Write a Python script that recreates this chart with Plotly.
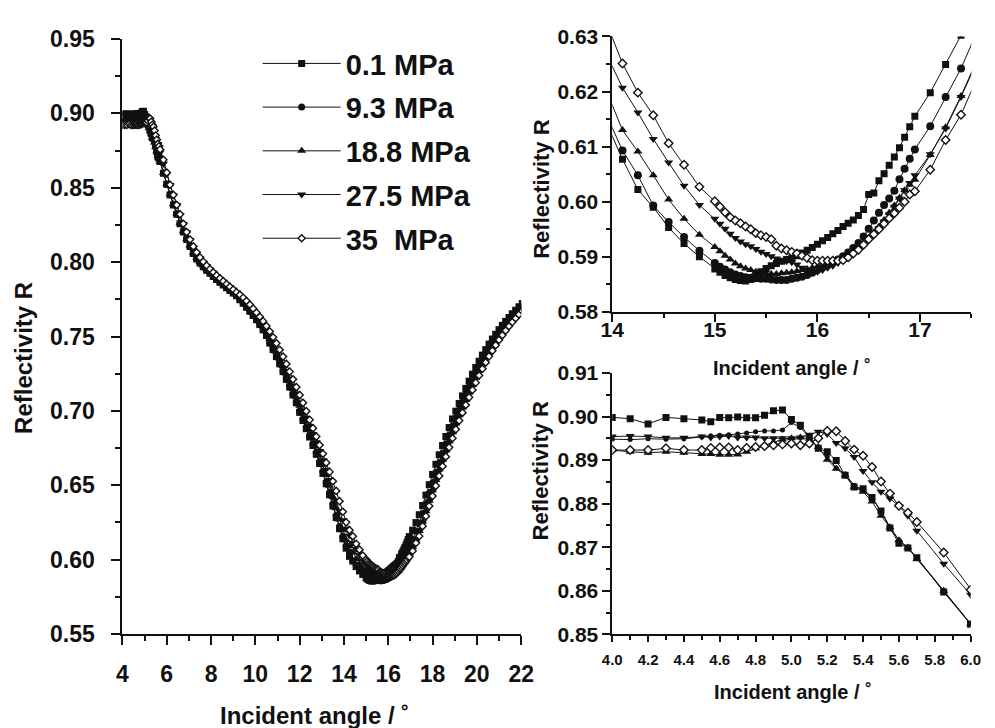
import plotly.graph_objects as go

# ---------------- data ----------------
# incident angle grid (degrees), shared by all five pressure series
ANGLE = [
    4.0, 4.1, 4.2, 4.3, 4.4, 4.5,
    4.55, 4.6, 4.65, 4.7, 4.75, 4.8, 4.85, 4.9, 4.95, 5.0, 5.05, 5.1, 5.15, 5.2,
    5.25, 5.3, 5.35, 5.4, 5.45, 5.5, 5.55, 5.6, 5.65, 5.7,
    5.85, 6.0, 6.15, 6.3, 6.45, 6.6, 6.75, 6.9, 7.05, 7.2, 7.35, 7.5, 7.65, 7.8,
    7.95, 8.1, 8.25, 8.4, 8.55, 8.7, 8.85, 9.0, 9.15, 9.3, 9.45, 9.6, 9.75, 9.9,
    10.05, 10.2, 10.35, 10.5, 10.65, 10.8, 10.95, 11.1, 11.25, 11.4, 11.55, 11.7,
    11.85, 12.0, 12.15, 12.3, 12.45, 12.6, 12.75, 12.9, 13.05, 13.2, 13.35, 13.5,
    13.65, 13.8, 13.95,
    14.1, 14.25, 14.4, 14.55, 14.7, 14.85, 15.0,
    15.05, 15.1, 15.15, 15.2, 15.25, 15.3, 15.35, 15.4, 15.45, 15.5, 15.55, 15.6,
    15.65, 15.7, 15.75, 15.8, 15.85, 15.9, 15.95, 16.0, 16.05, 16.1, 16.15, 16.2,
    16.25, 16.3, 16.35, 16.4, 16.45, 16.5, 16.55, 16.6, 16.65, 16.7, 16.75, 16.8,
    16.85, 16.9,
    16.95, 17.1, 17.25, 17.4, 17.55, 17.7, 17.85, 18.0, 18.15, 18.3, 18.45, 18.6,
    18.75, 18.9, 19.05, 19.2, 19.35, 19.5, 19.65, 19.8, 19.95, 20.1, 20.25, 20.4,
    20.55, 20.7, 20.85, 21.0, 21.15, 21.3, 21.45, 21.6, 21.75, 21.9, 22.05,
]

R_0_1 = [
    0.8998, 0.8995, 0.8983, 0.8998, 0.8995, 0.8992,
    0.8988, 0.8998, 0.8997, 0.8999, 0.8997, 0.8997, 0.9003, 0.9013, 0.9015, 0.8993,
    0.8980, 0.8954, 0.8927, 0.8919, 0.8899, 0.8865, 0.8838, 0.8834, 0.8814, 0.8783,
    0.8744, 0.8709, 0.8698, 0.8676,
    0.8597, 0.8523, 0.8452, 0.8385, 0.8322, 0.8258, 0.8202, 0.8152, 0.8106, 0.8058,
    0.8022, 0.7994, 0.7969, 0.7946, 0.7925, 0.7904, 0.7884, 0.7865, 0.7846, 0.7828,
    0.7810, 0.7792, 0.7774, 0.7748, 0.7723, 0.7697, 0.7670, 0.7642, 0.7612, 0.7580,
    0.7545, 0.7507, 0.7456, 0.7412, 0.7365, 0.7316, 0.7264, 0.7212, 0.7160, 0.7107,
    0.7054, 0.6990, 0.6935, 0.6880, 0.6824, 0.6767, 0.6708, 0.6646, 0.6580, 0.6510,
    0.6436, 0.6360, 0.6283, 0.6208, 0.6140,
    0.6077, 0.6022, 0.5990, 0.5953, 0.5924, 0.5900, 0.5878,
    0.5872, 0.5866, 0.5862, 0.5859, 0.5857, 0.5856, 0.5859, 0.5865, 0.5873, 0.5879,
    0.5884, 0.5888, 0.5892, 0.5895, 0.5898, 0.5902, 0.5907, 0.5912, 0.5917, 0.5923,
    0.5929, 0.5935, 0.5942, 0.5948, 0.5955, 0.5961, 0.5967, 0.5975, 0.5986, 0.6013,
    0.6016, 0.6038, 0.6051, 0.6066, 0.6081, 0.6098, 0.6117, 0.6136,
    0.6155, 0.6198, 0.6249, 0.6302, 0.6364, 0.6434, 0.6504, 0.6573, 0.6641, 0.6705,
    0.6767, 0.6828, 0.6888, 0.6946, 0.6998, 0.7050, 0.7101, 0.7151, 0.7200, 0.7247,
    0.7292, 0.7334, 0.7375, 0.7412, 0.7449, 0.7483, 0.7515, 0.7546, 0.7575, 0.7602,
    0.7628, 0.7653, 0.7677, 0.7700, 0.7722,
]

R_9_3 = [
    0.8948, 0.8947, 0.8949, 0.8948, 0.8949, 0.8953,
    0.8956, 0.8957, 0.8958, 0.8960, 0.8962, 0.8965, 0.8967, 0.8967, 0.8969, 0.8986,
    0.8975, 0.8952, 0.8927, 0.8908, 0.8882, 0.8868, 0.8842, 0.8831, 0.8812, 0.8783,
    0.8746, 0.8716, 0.8698, 0.8676,
    0.8600, 0.8524, 0.8454, 0.8386, 0.8324, 0.8259, 0.8204, 0.8153, 0.8108, 0.8059,
    0.8024, 0.7995, 0.7971, 0.7947, 0.7927, 0.7905, 0.7886, 0.7866, 0.7848, 0.7829,
    0.7812, 0.7793, 0.7776, 0.7750, 0.7725, 0.7699, 0.7672, 0.7645, 0.7615, 0.7583,
    0.7548, 0.7510, 0.7460, 0.7416, 0.7370, 0.7321, 0.7269, 0.7218, 0.7166, 0.7113,
    0.7061, 0.6998, 0.6943, 0.6889, 0.6833, 0.6777, 0.6718, 0.6657, 0.6592, 0.6522,
    0.6449, 0.6374, 0.6297, 0.6223, 0.6155,
    0.6093, 0.6048, 0.5993, 0.5963, 0.5936, 0.5911, 0.5889,
    0.5882, 0.5877, 0.5872, 0.5868, 0.5865, 0.5863, 0.5862, 0.5861, 0.5860, 0.5860,
    0.5859, 0.5858, 0.5858, 0.5858, 0.5860, 0.5862, 0.5864, 0.5867, 0.5871, 0.5876,
    0.5881, 0.5885, 0.5890, 0.5895, 0.5901, 0.5908, 0.5916, 0.5925, 0.5937, 0.5951,
    0.5966, 0.5980, 0.5994, 0.6006, 0.6020, 0.6041, 0.6060, 0.6078,
    0.6095, 0.6137, 0.6190, 0.6242, 0.6306, 0.6376, 0.6447, 0.6516, 0.6585, 0.6649,
    0.6713, 0.6775, 0.6836, 0.6896, 0.6953, 0.7005, 0.7057, 0.7108, 0.7157, 0.7206,
    0.7253, 0.7297, 0.7340, 0.7380, 0.7417, 0.7454, 0.7488, 0.7519, 0.7550, 0.7578,
    0.7606, 0.7631, 0.7656, 0.7680, 0.7703,
]

R_18_8 = [
    0.8923, 0.8919, 0.8917, 0.8919, 0.8917, 0.8914,
    0.8914, 0.8912, 0.8912, 0.8913, 0.8919, 0.8927, 0.8934, 0.8941, 0.8947, 0.8950,
    0.8952, 0.8949, 0.8930, 0.8901, 0.8880, 0.8865, 0.8838, 0.8827, 0.8805, 0.8772,
    0.8746, 0.8716, 0.8699, 0.8673,
    0.8600, 0.8524, 0.8455, 0.8389, 0.8327, 0.8263, 0.8208, 0.8158, 0.8112, 0.8064,
    0.8029, 0.8001, 0.7977, 0.7954, 0.7933, 0.7913, 0.7894, 0.7876, 0.7858, 0.7841,
    0.7824, 0.7807, 0.7790, 0.7766, 0.7742, 0.7717, 0.7691, 0.7664, 0.7636, 0.7605,
    0.7572, 0.7535, 0.7487, 0.7444, 0.7399, 0.7351, 0.7301, 0.7250, 0.7199, 0.7147,
    0.7095, 0.7034, 0.6981, 0.6928, 0.6874, 0.6819, 0.6762, 0.6702, 0.6638, 0.6569,
    0.6496, 0.6421, 0.6345, 0.6270, 0.6198,
    0.6130, 0.6091, 0.6048, 0.6004, 0.5969, 0.5940, 0.5918,
    0.5910, 0.5902, 0.5895, 0.5888, 0.5883, 0.5879, 0.5876, 0.5873, 0.5871, 0.5870,
    0.5869, 0.5869, 0.5870, 0.5871, 0.5872, 0.5874, 0.5876, 0.5878, 0.5880, 0.5882,
    0.5885, 0.5888, 0.5891, 0.5895, 0.5899, 0.5904, 0.5910, 0.5917, 0.5925, 0.5934,
    0.5944, 0.5955, 0.5967, 0.5980, 0.5993, 0.6007, 0.6021, 0.6031,
    0.6040, 0.6085, 0.6135, 0.6192, 0.6255, 0.6325, 0.6396, 0.6466, 0.6536, 0.6606,
    0.6671, 0.6734, 0.6796, 0.6856, 0.6915, 0.6970, 0.7023, 0.7074, 0.7124, 0.7174,
    0.7222, 0.7268, 0.7312, 0.7353, 0.7392, 0.7430, 0.7465, 0.7498, 0.7530, 0.7559,
    0.7588, 0.7614, 0.7640, 0.7664, 0.7688,
]

R_27_5 = [
    0.8954, 0.8955, 0.8954, 0.8951, 0.8951, 0.8954,
    0.8952, 0.8954, 0.8955, 0.8952, 0.8952, 0.8952, 0.8950, 0.8950, 0.8950, 0.8950,
    0.8952, 0.8958, 0.8965, 0.8960, 0.8939, 0.8927, 0.8907, 0.8875, 0.8849, 0.8827,
    0.8812, 0.8794, 0.8772, 0.8738,
    0.8662, 0.8591, 0.8518, 0.8449, 0.8384, 0.8316, 0.8255, 0.8200, 0.8149, 0.8097,
    0.8057, 0.8026, 0.7998, 0.7973, 0.7950, 0.7928, 0.7907, 0.7887, 0.7868, 0.7850,
    0.7832, 0.7814, 0.7796, 0.7771, 0.7747, 0.7722, 0.7696, 0.7670, 0.7642, 0.7612,
    0.7579, 0.7543, 0.7495, 0.7454, 0.7410, 0.7364, 0.7315, 0.7266, 0.7217, 0.7167,
    0.7117, 0.7056, 0.7004, 0.6952, 0.6899, 0.6845, 0.6789, 0.6731, 0.6669, 0.6604,
    0.6535, 0.6465, 0.6394, 0.6326, 0.6265,
    0.6207, 0.6162, 0.6114, 0.6071, 0.6029, 0.5994, 0.5969,
    0.5960, 0.5951, 0.5942, 0.5934, 0.5928, 0.5923, 0.5919, 0.5914, 0.5909, 0.5905,
    0.5901, 0.5897, 0.5894, 0.5892, 0.5890, 0.5886, 0.5880, 0.5875, 0.5872, 0.5873,
    0.5876, 0.5880, 0.5884, 0.5889, 0.5894, 0.5900, 0.5907, 0.5914, 0.5922, 0.5931,
    0.5941, 0.5952, 0.5964, 0.5977, 0.5991, 0.6006, 0.6021, 0.6034,
    0.6048, 0.6086, 0.6133, 0.6190, 0.6252, 0.6322, 0.6392, 0.6462, 0.6532, 0.6597,
    0.6662, 0.6726, 0.6788, 0.6848, 0.6907, 0.6963, 0.7016, 0.7067, 0.7117, 0.7167,
    0.7215, 0.7261, 0.7305, 0.7347, 0.7386, 0.7424, 0.7460, 0.7493, 0.7525, 0.7555,
    0.7584, 0.7610, 0.7636, 0.7660, 0.7684,
]

R_35 = [
    0.8923, 0.8923, 0.8923, 0.8927, 0.8923, 0.8923,
    0.8928, 0.8929, 0.8929, 0.8923, 0.8928, 0.8930, 0.8932, 0.8934, 0.8936, 0.8938,
    0.8934, 0.8938, 0.8950, 0.8967, 0.8966, 0.8944, 0.8924, 0.8910, 0.8884, 0.8851,
    0.8823, 0.8795, 0.8779, 0.8758,
    0.8688, 0.8602, 0.8520, 0.8452, 0.8385, 0.8322, 0.8258, 0.8202, 0.8152, 0.8106,
    0.8066, 0.8032, 0.8003, 0.7977, 0.7954, 0.7932, 0.7911, 0.7891, 0.7872, 0.7853,
    0.7834, 0.7816, 0.7798, 0.7780, 0.7761, 0.7739, 0.7714, 0.7688, 0.7661, 0.7633,
    0.7603, 0.7570, 0.7534, 0.7495, 0.7454, 0.7411, 0.7365, 0.7316, 0.7264, 0.7212,
    0.7160, 0.7107, 0.7054, 0.6998, 0.6940, 0.6884, 0.6827, 0.6770, 0.6712, 0.6652,
    0.6590, 0.6527, 0.6462, 0.6393, 0.6322,
    0.6251, 0.6198, 0.6157, 0.6106, 0.6067, 0.6027, 0.6001,
    0.5991, 0.5981, 0.5972, 0.5966, 0.5961, 0.5955, 0.5950, 0.5943, 0.5939, 0.5936,
    0.5932, 0.5920, 0.5915, 0.5912, 0.5909, 0.5906, 0.5902, 0.5898, 0.5894, 0.5893,
    0.5893, 0.5893, 0.5893, 0.5893, 0.5894, 0.5899, 0.5906, 0.5913, 0.5922, 0.5932,
    0.5941, 0.5950, 0.5960, 0.5970, 0.5979, 0.5989, 0.6000, 0.6013,
    0.6019, 0.6058, 0.6112, 0.6158, 0.6225, 0.6292, 0.6360, 0.6428, 0.6496, 0.6563,
    0.6628, 0.6692, 0.6755, 0.6816, 0.6876, 0.6935, 0.6988, 0.7040, 0.7091, 0.7141,
    0.7190, 0.7238, 0.7283, 0.7326, 0.7367, 0.7405, 0.7442, 0.7477, 0.7509, 0.7540,
    0.7569, 0.7597, 0.7623, 0.7648, 0.7672,
]

SERIES_NAMES = ["0.1 MPa", "9.3 MPa", "18.8 MPa", "27.5 MPa", "35\u00a0\u00a0MPa"]
SERIES_VALUES = [R_0_1, R_9_3, R_18_8, R_27_5, R_35]

# ---------------- styling ----------------
W, H = 995, 728
FONT = "Liberation Sans"
BLACK = "#111111"

# per series: symbol, fill colour, size in main / top inset / bottom inset
STYLES = [
    dict(symbol="square", fill=BLACK, sizes=(7, 7, 7)),
    dict(symbol="circle", fill=BLACK, sizes=(7, 8, 5)),
    dict(symbol="triangle-up", fill=BLACK, sizes=(8, 8, 8)),
    dict(symbol="triangle-down", fill=BLACK, sizes=(8, 8, 8)),
    dict(symbol="diamond", fill="white", sizes=(5.5, 6.5, 6.5)),
]


def px_x(p):
    return p / W


def px_y(p):
    return 1 - p / H


fig = go.Figure()

axes = [("x", "y"), ("x2", "y2"), ("x3", "y3")]
for i, (name, vals) in enumerate(zip(SERIES_NAMES, SERIES_VALUES)):
    st = STYLES[i]
    for k, (xa, ya) in enumerate(axes):
        fig.add_trace(go.Scatter(
            x=ANGLE, y=vals, xaxis=xa, yaxis=ya,
            mode="lines+markers",
            name=name, legendgroup=name, showlegend=(k == 0),
            line=dict(color=BLACK, width=1),
            marker=dict(symbol=st["symbol"], size=st["sizes"][k], color=st["fill"],
                        line=dict(color=BLACK, width=1.4 if st["fill"] == "white" else 0)),
        ))


def axis_style(rng, dtick, minor_dtick, fmt, fsize, dom, anchor, ticklen=9, minorlen=5, lw=2,
               standoff=0):
    return dict(
        range=rng, domain=dom, anchor=anchor,
        showline=True, linecolor=BLACK, linewidth=lw,
        ticks="outside", ticklen=ticklen, tickwidth=lw, tickcolor=BLACK,
        dtick=dtick, tick0=rng[0], tickformat=fmt,
        ticklabelstandoff=standoff,
        minor=dict(ticks="outside", ticklen=minorlen, tickwidth=lw, tickcolor=BLACK, dtick=minor_dtick,
                   showgrid=False),
        showgrid=False, zeroline=False, mirror=False,
        tickfont=dict(family=FONT, size=fsize, color=BLACK, weight="bold"),
    )


fig.update_layout(
    width=W, height=H,
    margin=dict(l=0, r=0, t=0, b=0),
    paper_bgcolor="white", plot_bgcolor="white",
    font=dict(family=FONT, color=BLACK),
    # main panel
    xaxis=axis_style([4, 22], 2, 1, "d", 23, [px_x(113.3), px_x(522.3)], "y", standoff=9),
    yaxis=axis_style([0.55, 0.95], 0.05, 0.025, ".2f", 23, [px_y(644), px_y(27)], "x", standoff=12),
    # top-right inset
    xaxis2=axis_style([14, 17.5], 1, 0.5, "d", 21, [px_x(615.7), px_x(984)], "y2",
                      ticklen=8, minorlen=4, lw=1.5, standoff=-10),
    yaxis2=axis_style([0.58, 0.63], 0.01, 0.005, ".2f", 21, [px_y(310), px_y(24.3)], "x2",
                      ticklen=8, minorlen=4, lw=1.5),
    # bottom-right inset
    xaxis3=axis_style([4.0, 6.0], 0.2, 0.1, ".1f", 15, [px_x(615.7), px_x(983.3)], "y3",
                      ticklen=6, minorlen=4, lw=1.5, standoff=5),
    yaxis3=axis_style([0.85, 0.91], 0.01, 0.005, ".2f", 21, [px_y(644.3), px_y(373.3)], "x3",
                      ticklen=8, minorlen=4, lw=1.5),
    showlegend=True,
    legend=dict(
        x=px_x(252), y=px_y(26), xanchor="left", yanchor="top",
        bgcolor="rgba(0,0,0,0)", borderwidth=0,
        font=dict(family=FONT, size=29, color=BLACK, weight="bold"),
        itemwidth=78, tracegroupgap=3,
    ),
)

title_font = dict(family=FONT, color=BLACK, weight="bold")
annotations = [
    # main panel titles
    dict(text="Reflectivity R", x=px_x(12), y=px_y(358), textangle=-90, size=24),
    dict(text="Incident angle / \u02da", x=px_x(310), y=px_y(729), textangle=0, size=24),
    # top-right inset titles
    dict(text="Reflectivity R", x=px_x(543), y=px_y(183), textangle=-90, size=22),
    dict(text="Incident angle / \u02da", x=px_x(800), y=px_y(368), textangle=0, size=20),
    # bottom-right inset titles
    dict(text="Reflectivity R", x=px_x(542), y=px_y(475), textangle=-90, size=22),
    dict(text="Incident angle / \u02da", x=px_x(801), y=px_y(704), textangle=0, size=20),
]
fig.update_layout(annotations=[
    dict(text=a["text"], x=a["x"], y=a["y"], xref="paper", yref="paper",
         xanchor="center", yanchor="middle", showarrow=False, textangle=a["textangle"],
         font=dict(size=a["size"], **title_font))
    for a in annotations
])

fig.write_html("out.html")
